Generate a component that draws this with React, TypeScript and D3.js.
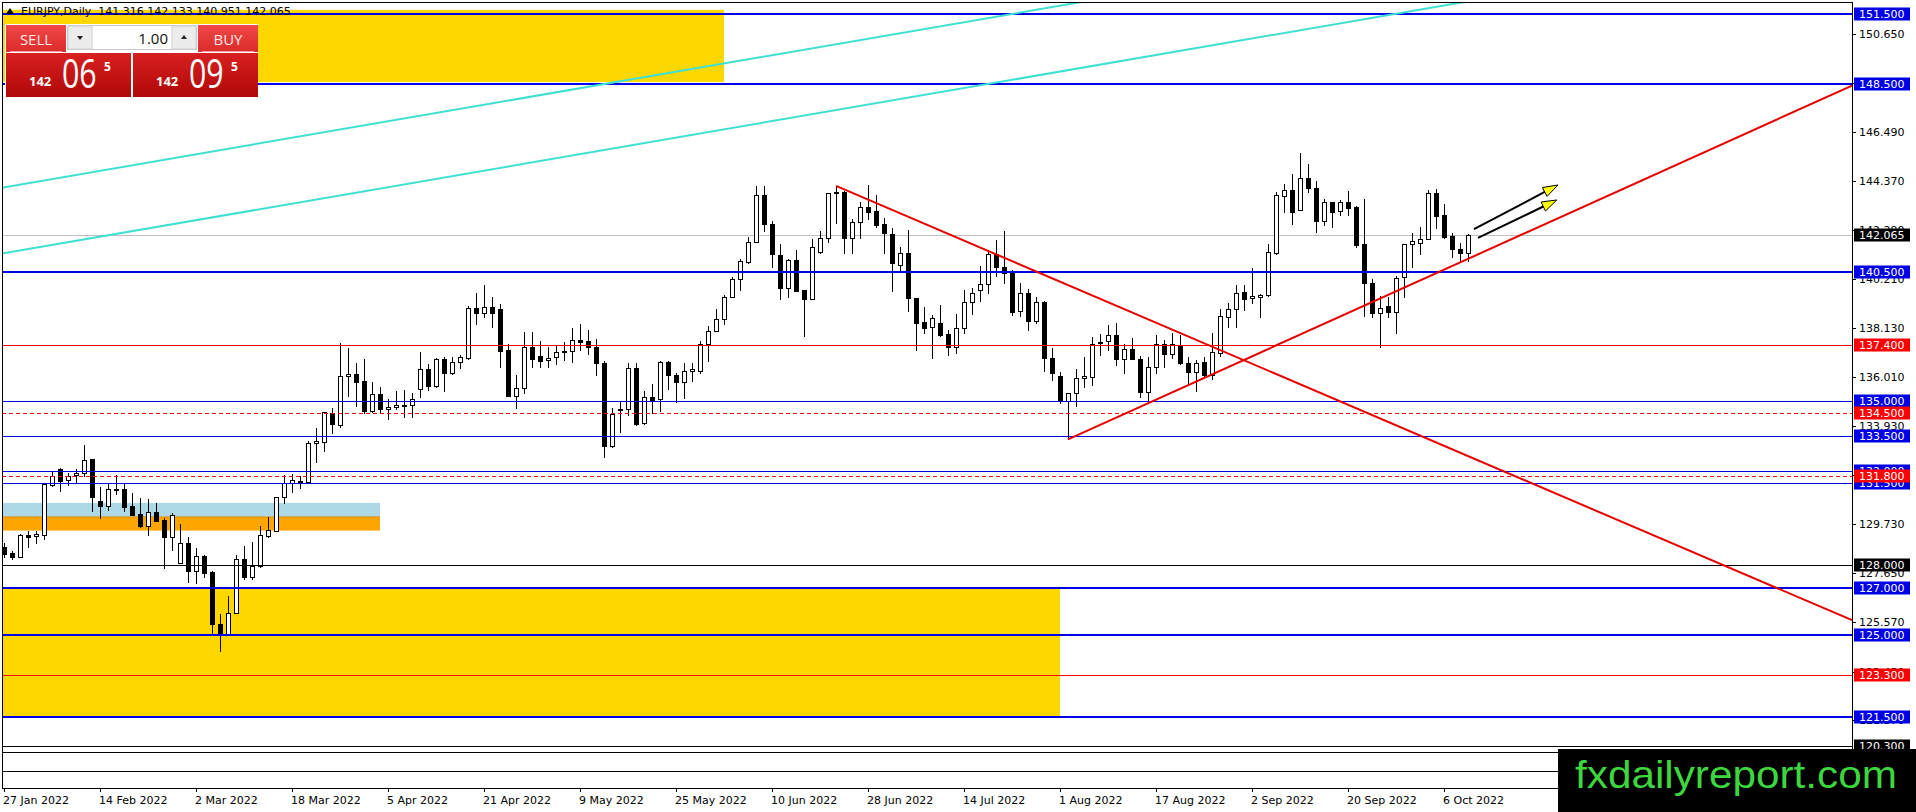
import React from 'react';
import * as d3 from 'd3';

const W = 1916;
const H = 812;

// ---- Candle data (EURJPY daily, bar 0 = 27 Jan 2022) ----
const opens = [
  128.78, 128.50, 128.36, 129.28, 129.22, 129.30, 131.43, 132.08, 131.61, 131.83,
  131.91, 132.51, 130.73, 130.53, 131.24, 131.23, 130.50, 130.18, 129.68, 130.25,
  129.92, 129.21, 128.10, 128.92, 127.76, 128.38, 127.69, 125.47, 125.06, 125.94,
  128.24, 127.50, 127.96, 129.25, 129.46, 130.92, 131.48, 131.56, 131.56, 133.19,
  133.26, 134.50, 133.97, 136.05, 136.13, 135.85, 134.58, 135.28, 134.64, 134.73,
  134.80, 134.81, 135.49, 136.35, 135.65, 136.77, 136.20, 136.67, 136.82, 138.95,
  138.73, 138.99, 138.91, 137.17, 135.22, 135.54, 137.29, 136.92, 136.74, 136.86,
  137.09, 137.11, 137.60, 137.56, 137.29, 136.60, 133.09, 134.60, 134.64, 136.39,
  134.04, 135.18, 135.07, 136.65, 136.10, 135.82, 136.26, 136.29, 137.41, 137.99,
  138.48, 139.45, 140.19, 140.94, 141.79, 143.78, 142.53, 141.22, 139.80, 141.01,
  139.73, 139.33, 141.34, 141.93, 143.91, 143.91, 141.93, 142.62, 143.26, 143.10,
  142.53, 142.10, 140.81, 141.30, 139.38, 138.35, 138.14, 138.31, 137.84, 137.29,
  138.10, 139.20, 139.73, 139.97, 141.27, 140.70, 140.47, 138.85, 139.59, 138.42,
  139.20, 136.82, 136.06, 135.01, 135.32, 135.96, 136.04, 137.46, 137.54, 137.80,
  136.80, 137.23, 136.80, 135.39, 136.43, 137.41, 136.99, 137.36, 136.60, 136.25,
  136.65, 136.10, 137.03, 138.59, 138.91, 139.63, 139.38, 139.42, 139.52, 141.30,
  143.75, 143.99, 143.14, 144.49, 144.07, 142.69, 143.47, 143.11, 143.47, 143.26,
  141.68, 140.04, 138.76, 139.05, 138.81, 140.27, 141.68, 141.75, 141.91, 143.85,
  142.93, 142.03, 141.48, 141.316,
];
const highs = [
  128.93, 128.61, 129.31, 129.46, 129.46, 131.50, 132.02, 132.12, 131.94, 132.10,
  133.12, 132.54, 131.31, 131.46, 131.83, 131.46, 131.06, 130.84, 130.82, 130.63,
  129.99, 130.23, 129.75, 129.21, 128.71, 128.43, 127.75, 125.90, 126.68, 128.43,
  128.83, 129.00, 129.66, 130.03, 130.92, 131.84, 131.88, 131.80, 133.29, 133.83,
  134.54, 134.68, 137.45, 137.24, 136.60, 136.79, 135.79, 135.61, 135.07, 135.42,
  135.46, 135.32, 137.07, 136.56, 136.82, 136.86, 136.86, 136.96, 139.06, 139.62,
  139.94, 139.42, 139.13, 137.43, 136.10, 137.95, 137.95, 137.57, 137.29, 137.34,
  137.53, 138.09, 138.28, 138.02, 137.64, 136.70, 134.68, 134.97, 136.63, 136.60,
  135.43, 135.72, 136.72, 136.72, 136.20, 136.63, 136.63, 137.57, 138.20, 138.91,
  139.53, 140.27, 141.04, 141.98, 144.17, 144.17, 142.69, 141.68, 141.04, 141.44,
  139.73, 141.89, 142.26, 143.88, 144.14, 143.97, 142.75, 143.50, 144.21, 143.78,
  142.79, 142.36, 141.58, 142.29, 139.38, 138.99, 138.66, 139.08, 138.03, 138.71,
  139.73, 139.80, 140.75, 141.44, 141.86, 142.25, 140.58, 140.01, 139.76, 139.42,
  139.26, 137.24, 136.25, 135.35, 136.35, 136.89, 137.71, 137.84, 138.24, 138.31,
  137.43, 137.68, 136.92, 136.86, 137.81, 137.60, 137.91, 137.81, 136.89, 136.75,
  136.89, 137.88, 138.91, 139.16, 139.94, 139.94, 140.68, 139.56, 141.69, 143.93,
  144.25, 144.68, 145.56, 145.11, 144.39, 143.60, 143.50, 143.57, 143.97, 143.31,
  143.60, 140.19, 139.47, 139.45, 140.33, 141.69, 142.18, 142.40, 143.99, 144.02,
  143.40, 142.15, 141.72, 142.133,
];
const lows = [
  128.36, 128.27, 128.36, 128.78, 128.95, 129.12, 131.37, 131.17, 131.40, 131.56,
  131.80, 130.32, 129.99, 130.35, 131.03, 130.30, 130.13, 129.64, 129.28, 129.88,
  127.86, 128.64, 128.07, 127.29, 127.25, 127.50, 125.09, 124.35, 125.06, 125.94,
  127.39, 127.39, 127.93, 129.21, 129.46, 130.63, 131.13, 131.30, 131.48, 132.41,
  132.88, 133.65, 133.90, 135.21, 134.80, 134.47, 134.54, 134.47, 134.21, 134.64,
  134.33, 134.30, 135.18, 135.46, 135.61, 135.44, 136.15, 136.39, 136.77, 138.28,
  138.59, 138.17, 136.43, 135.22, 134.71, 135.35, 136.43, 136.43, 136.46, 136.56,
  136.74, 136.67, 137.17, 136.99, 136.10, 132.59, 133.05, 133.69, 134.40, 133.97,
  134.01, 134.47, 134.58, 135.49, 134.94, 135.14, 135.86, 136.20, 136.72, 137.99,
  138.28, 139.42, 139.73, 140.90, 141.79, 142.26, 140.73, 139.33, 139.42, 139.70,
  137.78, 139.33, 141.30, 141.79, 142.60, 141.32, 141.32, 141.96, 142.76, 142.40,
  141.29, 139.70, 140.56, 138.85, 137.17, 137.91, 136.82, 137.77, 136.94, 137.03,
  137.91, 138.69, 139.28, 139.62, 140.33, 140.04, 138.66, 138.62, 138.02, 138.34,
  136.29, 135.89, 134.93, 133.36, 134.78, 135.58, 135.68, 136.96, 137.17, 136.52,
  136.21, 136.77, 135.18, 134.97, 136.18, 136.46, 136.82, 136.56, 135.68, 135.44,
  136.04, 135.95, 136.92, 138.17, 138.17, 138.88, 139.19, 138.59, 139.47, 141.27,
  143.07, 142.55, 143.14, 143.93, 142.22, 142.50, 142.43, 142.93, 142.93, 141.58,
  138.62, 138.59, 137.31, 138.57, 137.90, 139.42, 140.73, 141.27, 141.89, 142.36,
  141.94, 141.12, 140.94, 140.951,
];
const closes = [
  128.47, 128.36, 129.28, 129.21, 129.32, 131.46, 131.81, 131.60, 131.81, 131.93,
  132.47, 130.92, 130.52, 131.24, 131.20, 130.49, 130.15, 129.66, 130.25, 129.89,
  129.21, 130.12, 128.92, 127.76, 128.38, 127.67, 125.47, 125.06, 125.94, 128.24,
  127.50, 127.96, 129.28, 129.49, 130.92, 131.48, 131.61, 131.58, 133.19, 133.29,
  134.51, 134.00, 136.05, 136.13, 135.82, 134.57, 135.28, 134.64, 134.74, 134.81,
  134.82, 135.07, 136.35, 135.65, 136.77, 136.20, 136.67, 136.86, 138.95, 138.73,
  138.99, 138.73, 137.14, 135.22, 135.54, 137.29, 136.80, 136.72, 136.83, 137.07,
  137.13, 137.60, 137.53, 137.29, 136.60, 133.09, 134.44, 134.64, 136.39, 134.01,
  135.18, 135.01, 136.65, 136.11, 135.82, 136.28, 136.35, 137.43, 137.99, 138.48,
  139.45, 140.19, 140.98, 141.79, 143.78, 142.53, 141.25, 139.80, 141.01, 139.70,
  139.33, 141.58, 141.93, 143.85, 143.85, 141.93, 142.62, 143.26, 143.07, 142.50,
  142.15, 140.90, 141.30, 139.37, 138.34, 138.12, 138.54, 137.81, 137.29, 138.10,
  139.20, 139.59, 139.97, 141.27, 140.70, 140.44, 138.81, 139.59, 138.42, 139.20,
  136.82, 136.18, 135.01, 135.32, 135.96, 136.06, 137.43, 137.53, 137.80, 136.80,
  137.23, 136.80, 135.39, 136.43, 137.41, 136.99, 137.41, 136.60, 136.25, 136.60,
  136.10, 137.07, 138.62, 138.91, 139.62, 139.36, 139.48, 139.52, 141.34, 143.78,
  143.99, 143.07, 144.49, 144.07, 142.69, 143.47, 143.07, 143.47, 143.24, 141.65,
  140.04, 138.76, 138.98, 138.81, 140.23, 141.68, 141.81, 141.91, 143.85, 142.90,
  142.00, 141.47, 141.30, 142.065,
];

// ---- Axis labels ----
const dateLabels = [
  '27 Jan 2022', '14 Feb 2022', '2 Mar 2022', '18 Mar 2022', '5 Apr 2022', '21 Apr 2022',
  '9 May 2022', '25 May 2022', '10 Jun 2022', '28 Jun 2022', '14 Jul 2022', '1 Aug 2022',
  '17 Aug 2022', '2 Sep 2022', '20 Sep 2022', '6 Oct 2022',
];
const barsPerDateLabel = 12;
const priceTicks = [
  150.65, 148.57, 146.49, 144.37, 142.29, 140.21, 138.13, 136.01, 133.93, 131.85,
  129.73, 127.65, 125.57, 123.45, 121.37, 119.29,
];

// ---- Horizontal levels ----
const levelBlueThick = [151.5, 148.5, 140.5, 127.0, 125.0, 121.5];
const levelBlueThin = [135.0, 133.5, 132.0, 131.5];
const levelRed = [137.4, 123.3];
const levelRedDashed = [134.5, 131.8];
const levelBlack = [128.0, 120.3];
const levelBlackUnlabeled = [120.03, 119.21];
const currentPrice = 142.065;

// ---- Zones [bar from, bar to, price top, price bottom] ----
const zoneYellowTop = [-2, 90, 151.68, 148.6];
const zoneYellowBottom = [-2, 132, 127.0, 121.5];
const zoneLightBlue = [-2, 47, 130.65, 130.05];
const zoneOrange = [-2, 47, 130.05, 129.47];

// ---- Trend lines [bar1, price1, bar2, price2] ----
const trendDown = [104, 144.17, 231, 125.65];
const trendUp = [133, 133.36, 231, 148.45];
const channelUpper = [-0.5, 144.08, 231, 157.67];
const channelLower = [-0.5, 141.27, 231, 154.86];
const arrowA = [183.75, 142.33, 194.25, 144.21];
const arrowB = [184.25, 141.95, 194.1, 143.57];

const titleText = 'EURJPY,Daily  141.316 142.133 140.951 142.065';
const lotText = '1.00';
const sellQuote = ['142', '06', '5'];
const buyQuote = ['142', '09', '5'];
const watermark = 'fxdailyreport.com';

// ---- Layout ----
const PL = 2, PT = 2, PR = 1852, PB = 788;
const AXIS_FONT = '"DejaVu Sans", Verdana, sans-serif';

const x = d3.scaleLinear().domain([0, 231]).range([4, 1852]);
const y = d3.scaleLinear().domain([125.57, 150.65]).range([622, 34]);

const BLUE = '#0000e6';
const RED = '#ff0000';
const TREND_RED = '#e60000';
const CYAN = '#40e0d0';

function LevelLine({ v, color, width, dash }: { v: number; color: string; width: number; dash?: string }) {
  const yy = Math.round(y(v)) + (width % 2 === 1 ? 0.5 : 0);
  return <line x1={PL} x2={PR} y1={yy} y2={yy} stroke={color} strokeWidth={width} strokeDasharray={dash} />;
}

function LevelLabel({ v, bg }: { v: number; bg: string }) {
  const yy = Math.round(y(v));
  return (
    <g>
      <rect x={1854} y={yy - 6.5} width={56} height={13} fill={bg} />
      <text x={1859} y={yy + 4} fill="#fff" fontSize={11} fontFamily={AXIS_FONT}>{v.toFixed(3)}</text>
    </g>
  );
}

function TLine({ d, color, width }: { d: number[]; color: string; width: number }) {
  return <line x1={x(d[0])} y1={y(d[1])} x2={x(d[2])} y2={y(d[3])} stroke={color} strokeWidth={width} />;
}

function Arrow({ d }: { d: number[] }) {
  const x1 = x(d[0]), y1 = y(d[1]), x2 = x(d[2]), y2 = y(d[3]);
  const len = Math.hypot(x2 - x1, y2 - y1);
  const ux = (x2 - x1) / len, uy = (y2 - y1) / len;
  const nx = -uy, ny = ux;
  const hl = 15, hw = 5;
  const bx = x2 - ux * hl, by = y2 - uy * hl;
  const pts = [[x2, y2], [bx + nx * hw, by + ny * hw], [bx - nx * hw, by - ny * hw]];
  return (
    <g>
      <line x1={x1} y1={y1} x2={bx} y2={by} stroke="#000" strokeWidth={2} />
      <polygon points={pts.map((p) => p.join(',')).join(' ')} fill="#ffff00" stroke="#000" strokeWidth={1} strokeLinejoin="round" />
    </g>
  );
}

function Zone({ z, fill }: { z: number[]; fill: string }) {
  const x0 = Math.max(PL, x(z[0]));
  const x1 = x(z[1]);
  const y0 = y(z[2]), y1 = y(z[3]);
  return <rect x={x0} y={y0} width={x1 - x0} height={y1 - y0} fill={fill} />;
}

function Candles() {
  return (
    <g shapeRendering="crispEdges">
      {opens.map((o, i) => {
        const c = closes[i];
        const xi = Math.round(x(i));
        const yh = Math.round(y(highs[i]));
        const yl = Math.round(y(lows[i]));
        const yt = Math.round(y(Math.max(o, c)));
        const yb = Math.round(y(Math.min(o, c)));
        const bull = c >= o;
        const h = yb - yt;
        return (
          <g key={i}>
            <line x1={xi + 0.5} x2={xi + 0.5} y1={yh} y2={yl + 1} stroke="#000" strokeWidth={1} />
            {h >= 1 ? (
              <rect x={xi - 1.5} y={yt + 0.5} width={4} height={h} fill={bull ? '#fff' : '#000'} stroke="#000" strokeWidth={1} />
            ) : (
              <line x1={xi - 2} x2={xi + 3} y1={yt + 0.5} y2={yt + 0.5} stroke="#000" strokeWidth={1} />
            )}
          </g>
        );
      })}
    </g>
  );
}

function TradePanel() {
  const F = '"Open Sans", "Noto Sans", sans-serif';
  return (
    <g>
      <defs>
        <linearGradient id="btnRed" x1="0" y1="0" x2="0" y2="1">
          <stop offset="0" stopColor="#f04848" />
          <stop offset="1" stopColor="#dc2a2a" />
        </linearGradient>
        <linearGradient id="quoteRed" x1="0" y1="0" x2="0" y2="1">
          <stop offset="0" stopColor="#d82020" />
          <stop offset="1" stopColor="#b00808" />
        </linearGradient>
      </defs>
      <rect x={5} y={24} width={253} height={73} fill="#fff" />
      {/* SELL button */}
      <rect x={6} y={25} width={60} height={27} fill="url(#btnRed)" />
      <line x1={10} x2={62} y1={51.5} y2={51.5} stroke="#f7a0a0" strokeWidth={1} />
      <text x={36} y={45} textAnchor="middle" fill="#fde8e8" fontSize={15} fontFamily={F}>SELL</text>
      {/* lot spinner */}
      <rect x={67.5} y={25.5} width={129} height={24} fill="#fff" stroke="#c8c8c8" />
      <rect x={68} y={26} width={24} height={23} fill="#ececec" stroke="#d0d0d0" />
      <rect x={172} y={26} width={24} height={23} fill="#ececec" stroke="#d0d0d0" />
      <path d="M77,36 L83,36 L80,40 Z" fill="#222" />
      <path d="M181,39 L187,39 L184,35 Z" fill="#222" />
      <text x={168} y={44} textAnchor="end" fill="#111" fontSize={15} fontFamily={F}>{lotText}</text>
      {/* BUY button */}
      <rect x={198} y={25} width={60} height={27} fill="url(#btnRed)" />
      <line x1={202} x2={254} y1={51.5} y2={51.5} stroke="#f7a0a0" strokeWidth={1} />
      <text x={228} y={45} textAnchor="middle" fill="#fde8e8" fontSize={15} fontFamily={F}>BUY</text>
      {/* quote boxes */}
      <rect x={6} y={53} width={125} height={44} fill="url(#quoteRed)" />
      <rect x={133} y={53} width={125} height={44} fill="url(#quoteRed)" />
      {[{ q: sellQuote, x0: 29 }, { q: buyQuote, x0: 156 }].map(({ q, x0 }, k) => (
        <g key={k} fill="#fff" fontFamily={F}>
          <text x={x0} y={86} fontSize={13} fontWeight="bold">{q[0]}</text>
          <text transform={`translate(${x0 + 33},88) scale(0.74,1)`} x={0} y={0} fontSize={41}>{q[1]}</text>
          <text x={x0 + 75} y={71} fontSize={12} fontWeight="bold">{q[2]}</text>
        </g>
      ))}
    </g>
  );
}

export default function App() {
  const yCur = Math.round(y(currentPrice)) + 0.5;
  return (
    <svg
      width={W}
      height={H}
      viewBox={`0 0 ${W} ${H}`}
      style={{ position: 'fixed', left: 0, top: 0, background: '#fff', display: 'block' }}
    >
      <defs>
        <clipPath id="plot">
          <rect x={PL} y={PT} width={PR - PL} height={PB - PT} />
        </clipPath>
      </defs>
      <rect x={0} y={0} width={W} height={H} fill="#fff" />

      <g clipPath="url(#plot)">
        {/* background zones */}
        <Zone z={zoneYellowTop} fill="#ffd700" />
        <Zone z={zoneYellowBottom} fill="#ffd700" />
        <Zone z={zoneLightBlue} fill="#add8e6" />
        <Zone z={zoneOrange} fill="#ffa500" />
        <line x1={PL} x2={x(zoneOrange[1])} y1={y(zoneOrange[2])} y2={y(zoneOrange[2])} stroke="#e08a00" strokeWidth={1} />

        {/* current price line */}
        <line x1={PL} x2={PR} y1={yCur} y2={yCur} stroke="#c0c0c0" strokeWidth={1} shapeRendering="crispEdges" />

        <Candles />

        {/* horizontal levels */}
        <g shapeRendering="crispEdges">
          {levelBlackUnlabeled.map((v) => <LevelLine key={'bu' + v} v={v} color="#000" width={1} />)}
          {levelBlack.map((v) => <LevelLine key={'b' + v} v={v} color="#000" width={1} />)}
          {levelRed.map((v) => <LevelLine key={'r' + v} v={v} color={RED} width={1} />)}
          {levelRedDashed.map((v) => <LevelLine key={'rd' + v} v={v} color={RED} width={1} dash="4,3" />)}
          {levelBlueThin.map((v) => <LevelLine key={'bt' + v} v={v} color={BLUE} width={1} />)}
          {levelBlueThick.map((v) => <LevelLine key={'bk' + v} v={v} color={BLUE} width={2} />)}
        </g>

        {/* trend lines */}
        <TLine d={channelUpper} color={CYAN} width={2} />
        <TLine d={channelLower} color={CYAN} width={2} />
        <TLine d={trendDown} color={TREND_RED} width={2} />
        <TLine d={trendUp} color={TREND_RED} width={2} />
        <Arrow d={arrowA} />
        <Arrow d={arrowB} />
      </g>

      {/* frame */}
      <g shapeRendering="crispEdges" stroke="#000" strokeWidth={1}>
        <line x1={PL + 0.5} x2={PL + 0.5} y1={PT} y2={PB + 1} />
        <line x1={PL} x2={PR + 1} y1={PT + 0.5} y2={PT + 0.5} />
        <line x1={PR + 0.5} x2={PR + 0.5} y1={PT} y2={PB + 1} />
        <line x1={PL} x2={PR + 1} y1={PB + 0.5} y2={PB + 0.5} />
      </g>

      {/* price axis ticks */}
      <g fontFamily={AXIS_FONT} fontSize={11} fill="#000">
        {priceTicks.map((v) => {
          const yy = Math.round(y(v));
          return (
            <g key={v}>
              <line x1={PR} x2={PR + 4} y1={yy + 0.5} y2={yy + 0.5} stroke="#000" shapeRendering="crispEdges" />
              <text x={1859} y={yy + 4}>{v.toFixed(3)}</text>
            </g>
          );
        })}
      </g>

      {/* level labels */}
      {levelBlueThick.concat(levelBlueThin).map((v) => <LevelLabel key={'lb' + v} v={v} bg={BLUE} />)}
      {levelRed.concat(levelRedDashed).map((v) => <LevelLabel key={'lr' + v} v={v} bg={RED} />)}
      {levelBlack.map((v) => <LevelLabel key={'lk' + v} v={v} bg="#000" />)}
      <LevelLabel v={currentPrice} bg="#000" />

      {/* time axis */}
      <g fontFamily={AXIS_FONT} fontSize={11} fill="#000">
        {dateLabels.map((lab, k) => {
          const xi = Math.round(x(k * barsPerDateLabel));
          return (
            <g key={lab}>
              <line x1={xi + 0.5} x2={xi + 0.5} y1={PB} y2={PB + 4} stroke="#000" shapeRendering="crispEdges" />
              <text x={xi - 1} y={804}>{lab}</text>
            </g>
          );
        })}
      </g>

      {/* title */}
      <path d="M6,14 L10,8 L14,14 Z" fill="#000" />
      <text x={21} y={15} fontFamily={AXIS_FONT} fontSize={11} fill="#000" style={{ whiteSpace: 'pre' }}>{titleText}</text>

      <TradePanel />

      {/* watermark */}
      <rect x={1558} y={749} width={W - 1558} height={H - 749} fill="#000" />
      <text x={1575} y={788} fontFamily='"Liberation Sans", Arial, sans-serif' fontSize={39} fill="#3ed63e" textLength={322} lengthAdjust="spacingAndGlyphs">{watermark}</text>
    </svg>
  );
}
